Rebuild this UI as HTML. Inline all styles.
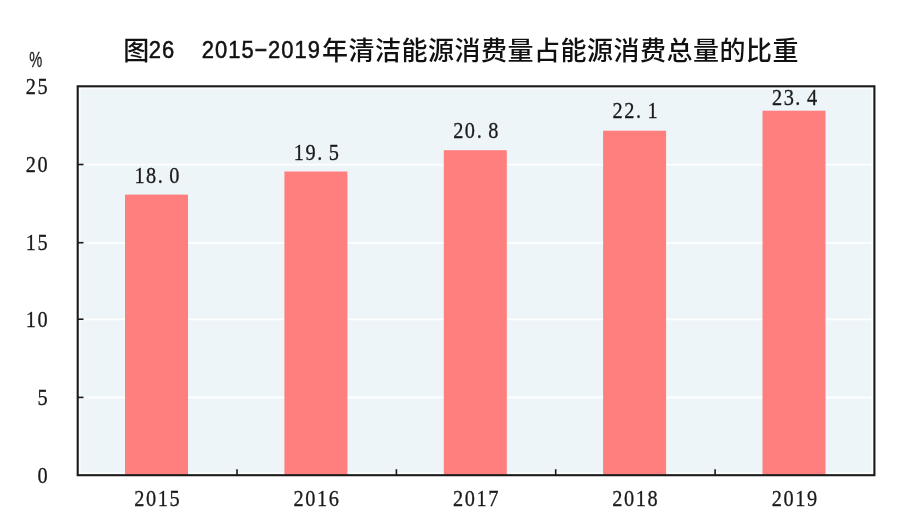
<!DOCTYPE html>
<html lang="zh-CN"><head><meta charset="utf-8"><title>图26 2015-2019年清洁能源消费量占能源消费总量的比重</title>
<style>html,body{margin:0;padding:0;background:#fff;}body{width:900px;height:531px;overflow:hidden;}svg{display:block;}.t{font-family:"Liberation Sans","Noto Sans CJK SC",sans-serif;font-weight:500;font-size:26px;fill:#111;text-anchor:start;}.t .d{font-size:23.6px;font-weight:400;stroke:#111;stroke-width:0.5px;letter-spacing:1.13px;}.t .h{letter-spacing:0;}.y{font-family:"Liberation Sans",sans-serif;font-size:21.5px;fill:#222;text-anchor:end;}.p{font-family:"Liberation Sans",sans-serif;font-size:21.5px;stroke:#222;stroke-width:0.3px;fill:#222;text-anchor:end;}.s{font-family:"Liberation Serif","Noto Serif CJK SC",serif;font-size:22.1px;fill:#1a1a1a;stroke:#1a1a1a;stroke-width:0.3px;text-anchor:middle;}</style></head><body>
<svg width="900" height="531" viewBox="0 0 900 531">
<rect x="0" y="0" width="900" height="531" fill="#fff"/>
<rect x="77.7" y="86.3" width="796.7" height="388.9" fill="#eef5f9"/>
<rect x="79.7" y="88.3" width="792.7" height="384.9" fill="none" stroke="#fff" stroke-opacity="0.7" stroke-width="1.8"/>
<line x1="77.7" x2="874.4" y1="397.5" y2="397.5" stroke="#fdffff" stroke-width="1.8"/>
<line x1="77.7" x2="874.4" y1="319.3" y2="319.3" stroke="#fdffff" stroke-width="1.8"/>
<line x1="77.7" x2="874.4" y1="242.8" y2="242.8" stroke="#fdffff" stroke-width="1.8"/>
<line x1="77.7" x2="874.4" y1="164.6" y2="164.6" stroke="#fdffff" stroke-width="1.8"/>
<rect x="125" y="194.6" width="63" height="280.6" fill="#ff7e7e"/>
<rect x="284.4" y="171.5" width="63" height="303.7" fill="#ff7e7e"/>
<rect x="443.8" y="150.2" width="63" height="325.0" fill="#ff7e7e"/>
<rect x="603.1" y="130.7" width="63" height="344.5" fill="#ff7e7e"/>
<rect x="762.5" y="110.7" width="63" height="364.5" fill="#ff7e7e"/>
<line x1="237.0" x2="237.0" y1="475.2" y2="469.2" stroke="#1a1a1a" stroke-width="1.6"/>
<line x1="396.4" x2="396.4" y1="475.2" y2="469.2" stroke="#1a1a1a" stroke-width="1.6"/>
<line x1="555.7" x2="555.7" y1="475.2" y2="469.2" stroke="#1a1a1a" stroke-width="1.6"/>
<line x1="715.1" x2="715.1" y1="475.2" y2="469.2" stroke="#1a1a1a" stroke-width="1.6"/>
<line x1="77.7" x2="83.5" y1="397.4" y2="397.4" stroke="#1a1a1a" stroke-width="1.6"/>
<line x1="77.7" x2="83.5" y1="319.2" y2="319.2" stroke="#1a1a1a" stroke-width="1.6"/>
<line x1="77.7" x2="83.5" y1="242.7" y2="242.7" stroke="#1a1a1a" stroke-width="1.6"/>
<line x1="77.7" x2="83.5" y1="164.5" y2="164.5" stroke="#1a1a1a" stroke-width="1.6"/>
<rect x="77.7" y="86.3" width="796.7" height="388.9" fill="none" stroke="#1a1a1a" stroke-width="2.1"/>
<text class="s" transform="scale(0.92 1)" x="46.2" y="482.7">0</text>
<text class="s" transform="scale(0.92 1)" x="46.2" y="404.9">5</text>
<text class="s" transform="scale(0.92 1)" x="33.5 46.2" y="326.7">10</text>
<text class="s" transform="scale(0.92 1)" x="33.5 46.2" y="250.2">15</text>
<text class="s" transform="scale(0.92 1)" x="33.5 46.2" y="172.0">20</text>
<text class="s" transform="scale(0.92 1)" x="33.5 46.2" y="93.8">25</text>
<text class="p" x="0" y="0" transform="translate(42.3 67.2) scale(0.68 1)">%</text>
<text class="s" transform="scale(0.92 1)" x="151.7 164.3 174.3 189.6" y="183.3">18.0</text>
<text class="s" transform="scale(0.92 1)" x="151.4 164.2 176.9 189.7" y="506.0">2015</text>
<text class="s" transform="scale(0.92 1)" x="324.9 337.6 347.6 362.9" y="159.9">19.5</text>
<text class="s" transform="scale(0.92 1)" x="324.6 337.4 350.2 363.0" y="506.0">2016</text>
<text class="s" transform="scale(0.92 1)" x="498.2 510.8 520.9 536.2" y="138.1">20.8</text>
<text class="s" transform="scale(0.92 1)" x="497.9 510.7 523.5 536.2" y="506.0">2017</text>
<text class="s" transform="scale(0.92 1)" x="671.3 684.0 694.0 709.3" y="118.4">22.1</text>
<text class="s" transform="scale(0.92 1)" x="671.1 683.8 696.6 709.4" y="506.0">2018</text>
<text class="s" transform="scale(0.92 1)" x="844.6 857.3 867.3 882.6" y="105.1">23.4</text>
<text class="s" transform="scale(0.92 1)" x="844.3 857.1 869.9 882.6" y="506.0">2019</text>
<text class="t" xml:space="preserve"><tspan x="123.25" y="59.5">图</tspan><tspan class="d" x="148.70" y="58" textLength="26.50" lengthAdjust="spacingAndGlyphs">26</tspan><tspan x="176.00" y="59.5">  </tspan><tspan class="d" x="201.70" y="58" textLength="53.00" lengthAdjust="spacingAndGlyphs">2015</tspan><tspan class="d h" x="253.92" y="56" textLength="13.8" lengthAdjust="spacingAndGlyphs">-</tspan><tspan class="d" x="267.95" y="58" textLength="53.00" lengthAdjust="spacingAndGlyphs">2019</tspan><tspan x="322.00 348.50 375.00 401.50 428.00 454.50 481.00 507.50 534.00 560.50 587.00 613.50 640.00 666.50 693.00 719.50 746.00 772.50" y="59.5">年清洁能源消费量占能源消费总量的比重</tspan></text>
</svg></body></html>
